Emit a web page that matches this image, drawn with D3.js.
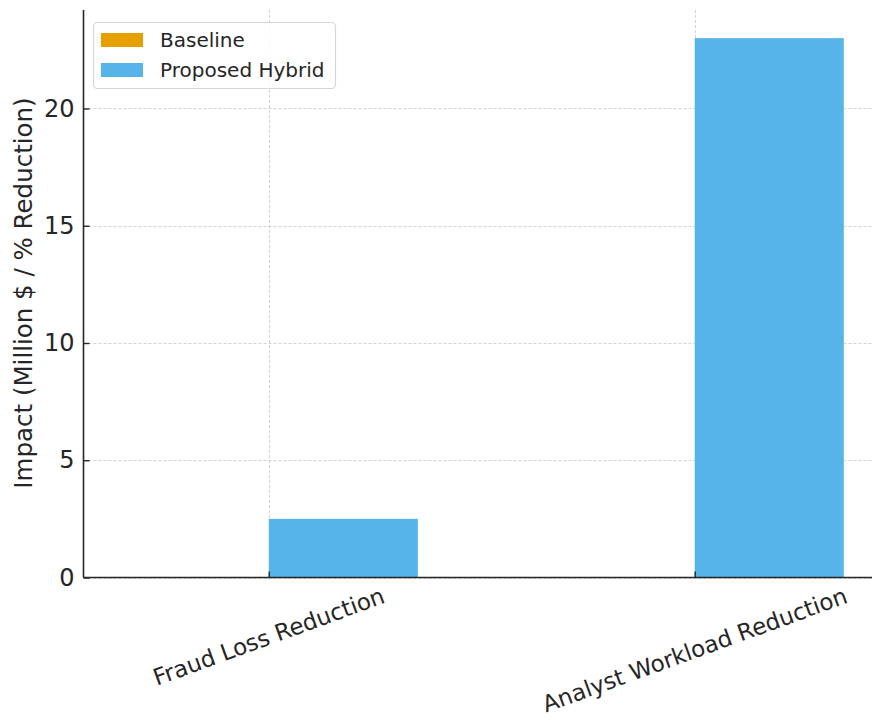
<!DOCTYPE html>
<html><head><meta charset="utf-8">
<script src="https://cdn.jsdelivr.net/npm/d3@7"></script>
<style>body{margin:0;background:#fff}svg{display:block;font-family:"DejaVu Sans",sans-serif}</style>
</head><body><svg id="c" width="872" height="721"></svg>
<script>
const categories = ["Fraud Loss Reduction", "Analyst Workload Reduction"];
const seriesNames = ["Baseline", "Proposed Hybrid"];
const baselineValues = [0, 0];
const proposedValues = [2.5, 23];
const yTicks = [0, 5, 10, 15, 20];
const colors = ["#E69F00", "#56B4E9"];
const yLabel = "Impact (Million $ / % Reduction)";

(function () {
const svg = d3.select("#c");
const ink = "#262626";
const pLeft = 83.5, pBottom = 577.5, pTop = 10;
const barW = 0.35;
const x = d3.scaleLinear().domain([-0.435, 1.435]).range([pLeft, 880]);
const y = d3.scaleLinear().domain([0, 24.2]).range([pBottom, pTop]);

// grid
const grid = svg.append("g").attr("stroke", "#c8c8c8").attr("stroke-width", 0.8).attr("stroke-dasharray", "3,2");
yTicks.forEach(t => grid.append("line").attr("x1", pLeft).attr("x2", 872).attr("y1", Math.round(y(t))+0.5).attr("y2", Math.round(y(t))+0.5));
categories.forEach((c, i) => grid.append("line").attr("x1", Math.round(x(i))+0.5).attr("x2", Math.round(x(i))+0.5).attr("y1", pTop).attr("y2", pBottom));

// bars
const series = [baselineValues, proposedValues];
series.forEach((vals, s) => {
  svg.append("g").selectAll("rect").data(vals).join("rect")
    .attr("x", (d, i) => x(i + (s === 0 ? -barW : 0)))
    .attr("width", x(barW) - x(0))
    .attr("y", d => y(d))
    .attr("height", d => y(0) - y(d))
    .attr("fill", colors[s]);
});

// axes
const yAxis = d3.axisLeft(y).tickValues(yTicks).tickSize(-6).tickPadding(9).tickFormat(d3.format("d"));
const gy = svg.append("g").attr("transform", `translate(${pLeft},0)`).call(yAxis);
gy.select(".domain").attr("stroke", ink).attr("stroke-width", 1.6).attr("d", `M0,${pTop}V${pBottom}`);
gy.selectAll(".tick line").attr("stroke", ink).attr("stroke-width", 1.4);
gy.selectAll(".tick text").attr("fill", ink).style("font-size", "24px").style("font-family", "DejaVu Sans");

const xAxis = d3.axisBottom(x).tickValues(categories.map((c, i) => i)).tickSize(-6).tickFormat("");
const gx = svg.append("g").attr("transform", `translate(0,${pBottom})`).call(xAxis);
gx.select(".domain").attr("stroke", ink).attr("stroke-width", 1.6).attr("d", `M${pLeft},0H872`);
gx.selectAll(".tick line").attr("stroke", ink).attr("stroke-width", 1.4);

// rotated x labels (center-aligned, rotated 20deg)
categories.forEach((c, i) => {
  const fs = 23;
  const t = svg.append("text").text(c).attr("fill", ink).style("font-size", fs + "px")
    .attr("text-anchor", "middle").attr("dominant-baseline", "central");
  const L = t.node().getComputedTextLength();
  const h = fs * 0.95;
  const a = 20 * Math.PI / 180;
  const H = L * Math.sin(a) + h * Math.cos(a);
  const cx = x(i), cy = pBottom + 7 + H / 2;
  t.attr("x", cx).attr("y", cy).attr("transform", `rotate(-20,${cx},${cy})`);
});

// y label
svg.append("text").text(yLabel).attr("fill", ink).style("font-size", "24.5px")
  .attr("text-anchor", "middle")
  .attr("transform", `translate(31.5,293) rotate(-90)`);

// legend
const lg = svg.append("g");
lg.append("rect").attr("x", 93.5).attr("y", 22.5).attr("width", 242).attr("height", 66).attr("rx", 4)
  .attr("fill", "#fff").attr("fill-opacity", 0.85).attr("stroke", "#d6d6d6").attr("stroke-width", 1.2);
seriesNames.forEach((n, i) => {
  lg.append("rect").attr("x", 101).attr("y", 33 + i * 30).attr("width", 42).attr("height", 14).attr("fill", colors[i]);
  lg.append("text").text(n).attr("x", 160).attr("y", 40 + i * 30).attr("dominant-baseline", "central")
    .attr("fill", ink).style("font-size", "20px");
});
})();
</script></body></html>
